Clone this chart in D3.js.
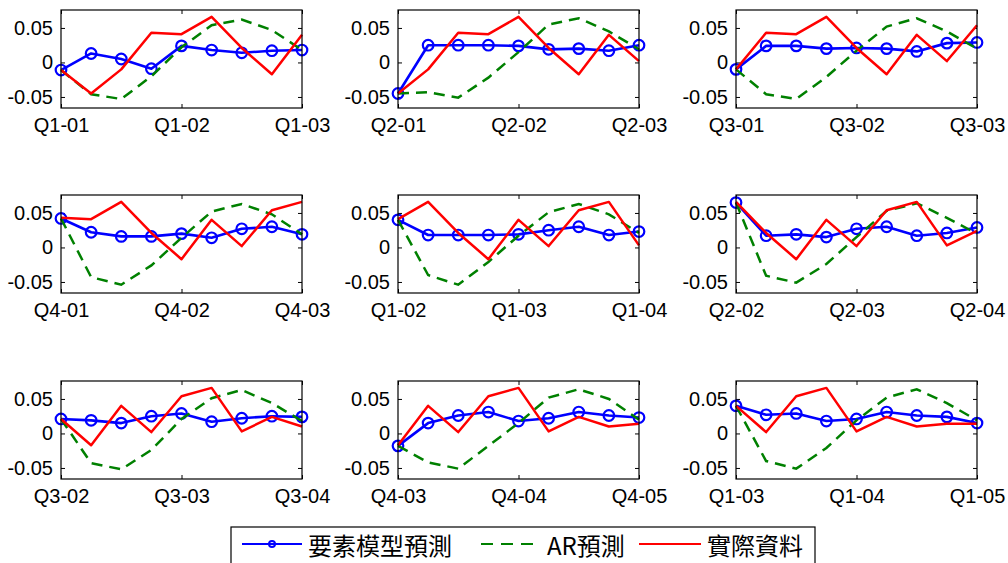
<!DOCTYPE html>
<html>
<head>
<meta charset="utf-8">
<script src="https://cdn.jsdelivr.net/npm/d3@7"></script>
<style>
  html, body { margin: 0; padding: 0; background: #fff; }
  svg { display: block; }
</style>
</head>
<body>
<svg id="chart" width="1008" height="563"></svg>
<script>
// Quarterly growth: actual series Q1-01 .. Q1-05 (each panel shows a 9-quarter window)
const actual = [-0.011, -0.045, -0.010, 0.043, 0.041, 0.066, 0.021, -0.017, 0.040,
                0.002, 0.054, 0.066, 0.003, 0.024, 0.010, 0.014, 0.014];

// Factor-model forecasts, one row per panel
const factorForecast = [
  [-0.011, 0.013, 0.005, -0.009, 0.024, 0.018, 0.014, 0.017, 0.018],
  [-0.045, 0.025, 0.025, 0.025, 0.024, 0.019, 0.020, 0.017, 0.025],
  [-0.010, 0.024, 0.024, 0.020, 0.021, 0.020, 0.016, 0.028, 0.029],
  [0.042, 0.022, 0.016, 0.016, 0.020, 0.014, 0.027, 0.030, 0.019],
  [0.040, 0.018, 0.018, 0.018, 0.019, 0.025, 0.030, 0.018, 0.023],
  [0.065, 0.017, 0.019, 0.015, 0.027, 0.030, 0.017, 0.021, 0.029],
  [0.021, 0.019, 0.015, 0.025, 0.029, 0.017, 0.022, 0.025, 0.024],
  [-0.018, 0.015, 0.026, 0.031, 0.018, 0.022, 0.031, 0.026, 0.023],
  [0.040, 0.027, 0.029, 0.018, 0.021, 0.031, 0.026, 0.024, 0.015]
];

// AR-model forecasts, one row per panel
const arForecast = [
  [-0.011, -0.046, -0.053, -0.020, 0.022, 0.054, 0.062, 0.047, 0.018],
  [-0.045, -0.043, -0.051, -0.022, 0.015, 0.055, 0.064, 0.045, 0.019],
  [-0.010, -0.046, -0.053, -0.021, 0.017, 0.052, 0.064, 0.045, 0.020],
  [0.042, -0.043, -0.054, -0.026, 0.014, 0.052, 0.063, 0.048, 0.019],
  [0.040, -0.040, -0.054, -0.021, 0.017, 0.051, 0.063, 0.048, 0.021],
  [0.065, -0.041, -0.051, -0.024, 0.015, 0.053, 0.064, 0.043, 0.020],
  [0.021, -0.043, -0.052, -0.024, 0.021, 0.051, 0.063, 0.044, 0.018],
  [-0.018, -0.042, -0.051, -0.018, 0.015, 0.052, 0.064, 0.050, 0.020],
  [0.040, -0.040, -0.051, -0.021, 0.019, 0.052, 0.064, 0.044, 0.019]
];

// x tick labels per panel (at quarter 0, 4 and 8 of the window)
const xTickLabels = [
  ["Q1-01", "Q1-02", "Q1-03"],
  ["Q2-01", "Q2-02", "Q2-03"],
  ["Q3-01", "Q3-02", "Q3-03"],
  ["Q4-01", "Q4-02", "Q4-03"],
  ["Q1-02", "Q1-03", "Q1-04"],
  ["Q2-02", "Q2-03", "Q2-04"],
  ["Q3-02", "Q3-03", "Q3-04"],
  ["Q4-03", "Q4-04", "Q4-05"],
  ["Q1-03", "Q1-04", "Q1-05"]
];
const xTicks = [0, 4, 8];
const yTicks = [-0.05, 0, 0.05];
const yTickLabels = ["-0.05", "0", "0.05"];

const seriesNames = ["要素模型預測", "AR預測", "實際資料"];
const windowLength = 9;

// ---- layout ----
const svg = d3.select("#chart");
const panelW = 241, panelH = 98;
const colLeft = [61, 398, 736];
const rowTop = [10, 195, 381];
const fontFamily = "'Liberation Sans', Arial, sans-serif";
const cjkFont = "'Noto Sans CJK TC', 'Noto Sans CJK SC', sans-serif";
const BLUE = "#0000ff", GREEN = "#008000", RED = "#ff0000";

const x = d3.scaleLinear().domain([0, windowLength - 1]).range([0, panelW]);
const y = d3.scaleLinear().domain([-0.066, 0.076]).range([panelH, 0]);

const line = d3.line().x((d, i) => x(i)).y(d => y(d));

factorForecast.forEach((fc, p) => {
  const r = Math.floor(p / 3), c = p % 3;
  const g = svg.append("g").attr("transform", `translate(${colLeft[c]},${rowTop[r]})`);
  const act = actual.slice(p, p + windowLength);
  const ar = arForecast[p];
  const labels = xTickLabels[p];

  // axes with inward ticks on all four sides
  g.append("g")
    .call(d3.axisLeft(y).tickValues(yTicks).tickSize(-4).tickSizeOuter(0).tickPadding(8)
      .tickFormat((d, i) => yTickLabels[i]));
  g.append("g").attr("transform", `translate(0,${panelH})`)
    .call(d3.axisBottom(x).tickValues(xTicks).tickSize(-4).tickSizeOuter(0).tickPadding(10)
      .tickFormat((d, i) => labels[i]));
  g.append("g").attr("transform", `translate(${panelW},0)`)
    .call(d3.axisRight(y).tickValues(yTicks).tickSize(-4).tickSizeOuter(0).tickFormat(""));
  g.append("g")
    .call(d3.axisTop(x).tickValues(xTicks).tickSize(-4).tickSizeOuter(0).tickFormat(""));

  g.selectAll(".domain").remove();
  g.selectAll(".tick line").attr("stroke", "#000").attr("stroke-width", 1);
  g.selectAll(".tick text")
    .attr("font-family", fontFamily).attr("font-size", 20).attr("fill", "#000");

  // clip the series to the plot box
  const clipId = `clip-${p}`;
  g.append("clipPath").attr("id", clipId)
    .append("rect").attr("x", -8).attr("y", 0).attr("width", panelW + 16).attr("height", panelH);

  const plot = g.append("g").attr("clip-path", `url(#${clipId})`);

  // factor model: solid blue with hollow circle markers
  plot.append("path").datum(fc)
    .attr("d", line).attr("fill", "none").attr("stroke", BLUE).attr("stroke-width", 2.6)
    .attr("stroke-linejoin", "round");
  plot.selectAll("circle.mk").data(fc).join("circle")
    .attr("class", "mk")
    .attr("cx", (d, i) => x(i)).attr("cy", d => y(d)).attr("r", 5.3)
    .attr("fill", "none").attr("stroke", BLUE).attr("stroke-width", 2.2);

  // AR model: dashed green
  plot.append("path").datum(ar)
    .attr("d", line).attr("fill", "none").attr("stroke", GREEN).attr("stroke-width", 2.5)
    .attr("stroke-dasharray", "11,7");

  // actual data: solid red
  plot.append("path").datum(act)
    .attr("d", line).attr("fill", "none").attr("stroke", RED).attr("stroke-width", 2.5)
    .attr("stroke-linejoin", "round");

  // plot box
  g.append("rect").attr("x", 0).attr("y", 0).attr("width", panelW).attr("height", panelH)
    .attr("fill", "none").attr("stroke", "#000").attr("stroke-width", 1.2);
});

// ---- legend ----
const legend = svg.append("g");
legend.append("rect").attr("x", 231).attr("y", 527).attr("width", 584).attr("height", 50)
  .attr("fill", "#fff").attr("stroke", "#000").attr("stroke-width", 1.2);

const legendY = 544;
const legendItems = [
  { name: seriesNames[0], color: BLUE, dash: null, marker: true, x0: 242, x1: 302, tx: 308 },
  { name: seriesNames[1], color: GREEN, dash: "12,8", marker: false, x0: 481, x1: 539, tx: 547 },
  { name: seriesNames[2], color: RED, dash: null, marker: false, x0: 639, x1: 701, tx: 707 }
];
legendItems.forEach(it => {
  legend.append("line").attr("x1", it.x0).attr("x2", it.x1).attr("y1", legendY).attr("y2", legendY)
    .attr("stroke", it.color).attr("stroke-width", 2.2)
    .attr("stroke-dasharray", it.dash);
  if (it.marker) {
    legend.append("circle").attr("cx", (it.x0 + it.x1) / 2).attr("cy", legendY).attr("r", 3)
      .attr("fill", "none").attr("stroke", it.color).attr("stroke-width", 2);
  }
  legend.append("text").attr("x", it.tx).attr("y", 555)
    .attr("font-family", cjkFont).attr("font-size", 24).attr("fill", "#000")
    .text(it.name);
});
</script>
</body>
</html>
